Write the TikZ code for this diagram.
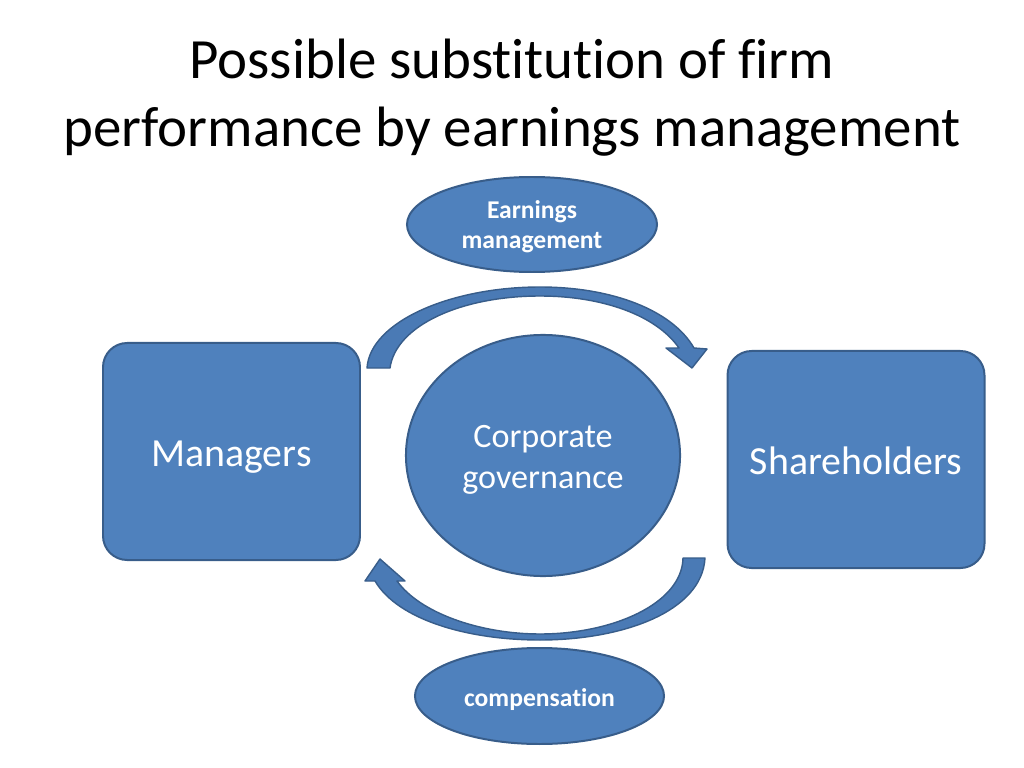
\documentclass[tikz,border=0pt]{standalone}
\usepackage{fontspec}
\setmainfont{Carlito}[Ligatures={NoCommon,NoRare}]
\usetikzlibrary{shapes.geometric}
\definecolor{accfill}{HTML}{4F81BD}
\definecolor{accline}{HTML}{385D8A}
\definecolor{arrfill}{HTML}{4A7AB5}
\tikzset{
  shp/.style={fill=accfill, draw=accline, line width=1.4pt},
  rbox/.style={shp, rounded corners=17pt, minimum width=180.7pt, minimum height=152.6pt, inner sep=0pt},
  oval/.style={shp, ellipse, inner sep=0pt},
  lbl/.style={text=white, align=center, inner sep=0pt},
  titletext/.style={font=\fontsize{40}{48}\selectfont, text=black, inner sep=0pt, anchor=base},
  curvedarrow/.style={fill=arrfill, draw=accline, line width=1pt, line join=round}
}
\begin{document}
\begin{tikzpicture}[x=0.703125pt, y=-0.703125pt]
\useasboundingbox (0,0) rectangle (1024,768);
% title
\node[titletext] (t1) at (512,79) {Possible substitution of firm};
\node[titletext] (t2) at (512,147) {performance by earnings management};
% shapes
\node[rbox] (mgr) at (231.5,451.5) {};
\node[rbox] (sh) at (856,459.5) {};
\node[oval, minimum width=192.7pt, minimum height=169.5pt] (cg) at (543,455.5) {};
\node[oval, minimum width=175.8pt, minimum height=66.8pt] (em) at (532,224.5) {};
\node[oval, minimum width=175.1pt, minimum height=67.5pt] (comp) at (539.5,696) {};
% labels
\node[lbl, font=\fontsize{28}{33.6}\selectfont] (mgrt) at ([yshift=-4.2pt]mgr.center) {Managers};
\node[lbl, font=\fontsize{28}{33.6}\selectfont] (sht) at ([yshift=-0.7pt]sh.center) {Shareholders};
\node[lbl, font=\fontsize{24}{29}\selectfont] (cgt) at ([yshift=-3pt]cg.center) {Corporate\\governance};
\node[lbl, font=\bfseries\fontsize{18}{21.2}\selectfont] (emt) at ([yshift=-1.4pt]em.center) {Earnings\\management};
\node[lbl, font=\bfseries\fontsize{18}{21.6}\selectfont] (compt) at ([yshift=-2.8pt]comp.center) {compensation};
% top curved arrow (from Managers side to Shareholders side)
\draw[curvedarrow] (367,368) .. controls (370,322) and (450,287) .. (540,287)
  .. controls (612,287) and (672,310) .. (694,348)
  -- (707,349) -- (692,368) -- (666,348) -- (679,348)
  .. controls (656,315) and (602,296) .. (540,296)
  .. controls (462,296) and (396,325) .. (390,368) -- cycle;
% bottom curved arrow (from Shareholders side to Managers side)
\draw[curvedarrow] (705,558) .. controls (702,612) and (622,640) .. (540,640)
  .. controls (468,640) and (398,620) .. (375,581)
  -- (365,581) -- (380,559) -- (405,581) -- (397,581)
  .. controls (420,613) and (480,634) .. (540,634)
  .. controls (612,634) and (682,604) .. (683,558) -- cycle;
\end{tikzpicture}
\end{document}
